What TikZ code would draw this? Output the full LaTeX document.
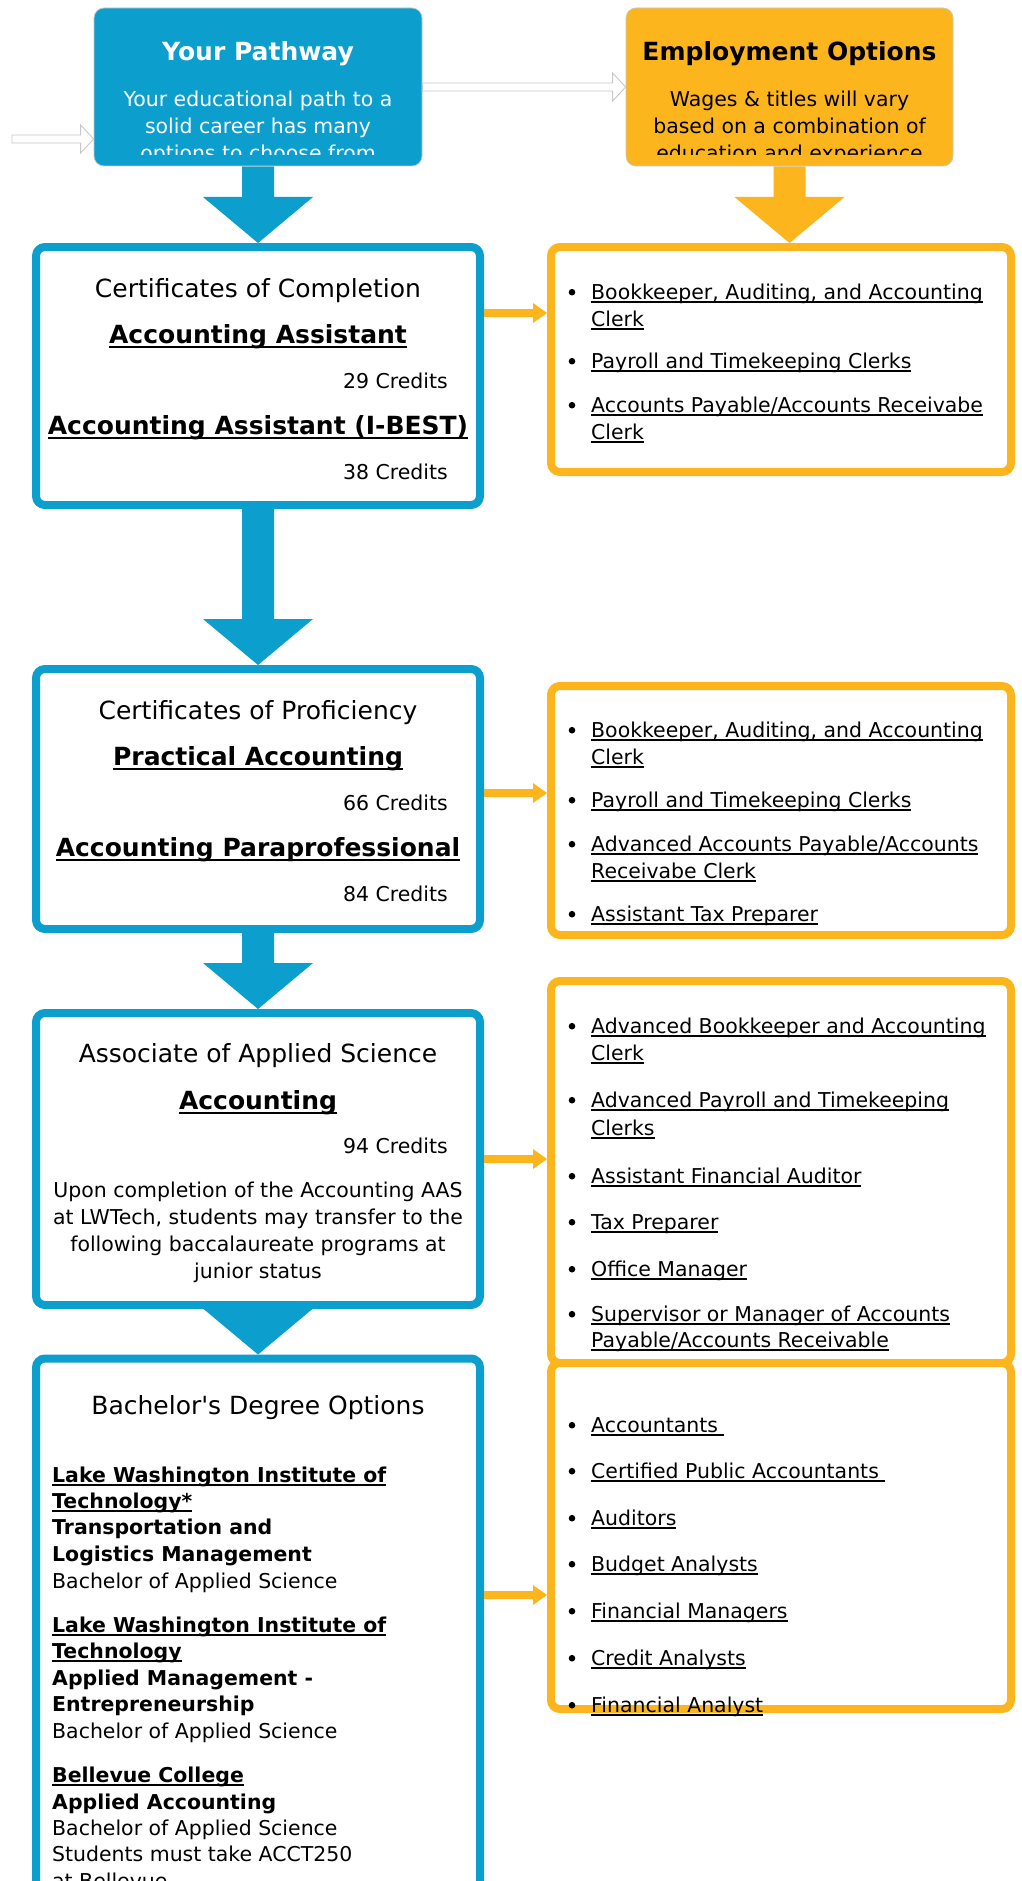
\documentclass[tikz,border=0pt]{standalone}
\usepackage{fontspec}
\setmainfont{DejaVu Sans}
\usetikzlibrary{calc}
\definecolor{lwblue}{RGB}{12,159,206}
\definecolor{lworange}{RGB}{253,181,30}
\definecolor{edgegray}{RGB}{200,200,200}
\newsavebox\ulbox
\newcommand\ulr[1]{\sbox\ulbox{#1}\rlap{\rule[-3.6pt]{\wd\ulbox}{1.3pt}}\usebox\ulbox}
\newcommand\ulb[1]{\sbox\ulbox{#1}\rlap{\rule[-4.6pt]{\wd\ulbox}{2pt}}\usebox\ulbox}
\newcommand\uls[1]{\sbox\ulbox{#1}\rlap{\rule[-3.8pt]{\wd\ulbox}{1.6pt}}\usebox\ulbox}
\pgfdeclarelayer{background}
\pgfsetlayers{background,main}
\newcommand\blkarrow[3]{\fill[#3] let \p1=(#1), \p2=(#2) in (\x1-16pt,\y1) -- (\x1+16pt,\y1) -- (\x1+16pt,\y2+46pt) -- (\x1+55pt,\y2+46pt) -- (\x1,\y2) -- (\x1-55pt,\y2+46pt) -- (\x1-16pt,\y2+46pt) -- cycle;}
\newcommand\sidearrow[2]{\fill[lworange] let \p1=(#1), \p2=(#2) in (\x1,\y1+4pt) -- (\x2-14pt,\y1+4pt) -- (\x2-14pt,\y1+10pt) -- (\x2,\y1) -- (\x2-14pt,\y1-10pt) -- (\x2-14pt,\y1-4pt) -- (\x1,\y1-4pt) -- cycle;}
\newcommand\hollowarrow[2]{\draw[draw=edgegray, line width=0.9pt, fill=white] let \p1=(#1), \p2=(#2) in (\x1,\y1+4pt) -- (\x2-13pt,\y1+4pt) -- (\x2-13pt,\y1+14pt) -- (\x2,\y1) -- (\x2-13pt,\y1-14pt) -- (\x2-13pt,\y1-4pt) -- (\x1,\y1-4pt) -- cycle;}
\newcommand\bitem[3]{\fill (572,#2-6.8) circle (3.3pt); \node[itm] (#1) at (591,#2) {\ulr{#3}};}
\tikzset{
  bluebox/.style={draw=lwblue, line width=8pt, fill=white, rounded corners=9pt, inner sep=0pt},
  orbox/.style={draw=lworange, line width=8pt, fill=white, rounded corners=9pt, inner sep=0pt},
  headbox/.style={draw=black!22, line width=0.7pt, rounded corners=10pt, inner sep=0pt},
  ttl/.style={font=\fontsize{25}{27}\selectfont, inner sep=0pt, anchor=base},
  ttlb/.style={font=\fontsize{25}{27}\selectfont\bfseries, inner sep=0pt, anchor=base},
  bod/.style={font=\fontsize{20.45}{27}\selectfont, inner sep=0pt, anchor=base},
  lft/.style={font=\fontsize{20.45}{27}\selectfont, inner sep=0pt, anchor=base west},
  lftb/.style={font=\fontsize{20.45}{27}\selectfont\bfseries, inner sep=0pt, anchor=base west},
  itm/.style={font=\fontsize{20.45}{27}\selectfont, inner sep=0pt, anchor=base west},
}
\begin{document}
\begin{tikzpicture}[x=1pt,y=-1pt]
\useasboundingbox (0,0) rectangle (1022,1881);

% header boxes
\node[headbox, fill=lwblue, minimum width=328pt, minimum height=158pt] (path) at (258,87) {};
\node[headbox, fill=lworange, minimum width=327pt, minimum height=158pt] (emp) at (789.5,87) {};
\node[ttlb, text=white] (pathT) at (258,61) {Your Pathway};
\node[ttlb] (empT) at (789.5,61) {Employment Options};
\begin{scope}
\clip (94,8) rectangle (953,155);
\node[bod, text=white] (pathL1) at (258,107) {Your educational path to a};
\node[bod, text=white] (pathL2) at (258,134) {solid career has many};
\node[bod, text=white] (pathL3) at (258,161) {options to choose from};
\node[bod] (empL1) at (789.5,107) {Wages \& titles will vary};
\node[bod] (empL2) at (789.5,134) {based on a combination of};
\node[bod] (empL3) at (789.5,161) {education and experience};
\end{scope}

% left boxes
\node[bluebox, minimum width=444pt, minimum height=258pt] (b1) at (258,376) {};
\node[bluebox, minimum width=444pt, minimum height=260pt] (b2) at (258,799) {};
\node[bluebox, minimum width=444pt, minimum height=292pt] (b3) at (258,1159) {};
\node[bluebox, minimum width=444pt, minimum height=563pt] (b4) at (258,1640) {};

% right boxes
\node[orbox, minimum width=460pt, minimum height=225pt] (o1) at (781,359.5) {};
\node[orbox, minimum width=460pt, minimum height=249pt] (o2) at (781,810.5) {};
\node[orbox, minimum width=460pt, minimum height=382pt] (o3) at (781,1172) {};
\node[orbox, minimum width=460pt, minimum height=346pt] (o4) at (781,1536) {};

% connector coordinates
\coordinate (c1) at (0,313);
\coordinate (c2) at (0,793);
\coordinate (c3) at (0,1159);
\coordinate (c4) at (0,1595);
\coordinate (lstart) at (12,139);

\begin{pgfonlayer}{background}
\fill[white] (0,0) rectangle (1022,1881);
\blkarrow{path.south}{b1.north}{lwblue}
\blkarrow{b1.south}{b2.north}{lwblue}
\blkarrow{b2.south}{b3.north}{lwblue}
\blkarrow{b3.south}{b4.north}{lwblue}
\blkarrow{emp.south}{o1.north}{lworange}
\end{pgfonlayer}

\hollowarrow{path.east}{emp.west}
\hollowarrow{lstart}{path.west |- lstart}
\sidearrow{b1.east |- c1}{o1.west |- c1}
\sidearrow{b2.east |- c2}{o2.west |- c2}
\sidearrow{b3.east |- c3}{o3.west |- c3}
\sidearrow{b4.east |- c4}{o4.west |- c4}

% box 1 text
\node[ttl] (b1t) at (258,297) {Certificates of Completion};
\node[ttlb] (b1p1) at (258,343) {\ulb{Accounting Assistant}};
\node[bod, anchor=base east] (b1c1) at (448,388) {29 Credits};
\node[ttlb] (b1p2) at (258,434) {\ulb{Accounting Assistant (I-BEST)}};
\node[bod, anchor=base east] (b1c2) at (448,479) {38 Credits};

% box 2 text
\node[ttl] (b2t) at (258,719) {Certificates of Proficiency};
\node[ttlb] (b2p1) at (258,765) {\ulb{Practical Accounting}};
\node[bod, anchor=base east] (b2c1) at (448,810) {66 Credits};
\node[ttlb] (b2p2) at (258,856) {\ulb{Accounting Paraprofessional}};
\node[bod, anchor=base east] (b2c2) at (448,901) {84 Credits};

% box 3 text
\node[ttl] (b3t) at (258,1062) {Associate of Applied Science};
\node[ttlb] (b3p1) at (258,1109) {\ulb{Accounting}};
\node[bod, anchor=base east] (b3c1) at (448,1153) {94 Credits};
\node[bod] (b3l1) at (258,1197) {Upon completion of the Accounting AAS};
\node[bod] (b3l2) at (258,1224) {at LWTech, students may transfer to the};
\node[bod] (b3l3) at (258,1251) {following baccalaureate programs at};
\node[bod] (b3l4) at (258,1278) {junior status};

% box 4 text
\node[ttl] (b4t) at (258,1414) {Bachelor\textquotesingle s Degree Options};
\node[lftb] (b4a1) at (52,1482) {\uls{Lake Washington Institute of}};
\node[lftb] (b4a2) at (52,1508) {\uls{Technology*}};
\node[lftb] (b4a3) at (52,1534) {Transportation and};
\node[lftb] (b4a4) at (52,1561) {Logistics Management};
\node[lft] (b4a5) at (52,1588) {Bachelor of Applied Science};
\node[lftb] (b4b1) at (52,1632) {\uls{Lake Washington Institute of}};
\node[lftb] (b4b2) at (52,1658) {\uls{Technology}};
\node[lftb] (b4b3) at (52,1685) {Applied Management -};
\node[lftb] (b4b4) at (52,1711) {Entrepreneurship};
\node[lft] (b4b5) at (52,1738) {Bachelor of Applied Science};
\node[lftb] (b4c1) at (52,1782) {\uls{Bellevue College}};
\node[lftb] (b4c2) at (52,1809) {Applied Accounting};
\node[lft] (b4c3) at (52,1835) {Bachelor of Applied Science};
\node[lft] (b4c4) at (52,1861) {Students must take ACCT250};
\node[lft] (b4c5) at (52,1888) {at Bellevue};

% orange box 1
\bitem{o1i1}{299}{Bookkeeper, Auditing, and Accounting}
\node[itm] (o1i1b) at (591,326) {\ulr{Clerk}};
\bitem{o1i2}{368}{Payroll and Timekeeping Clerks}
\bitem{o1i3}{412}{Accounts Payable/Accounts Receivabe}
\node[itm] (o1i3b) at (591,439) {\ulr{Clerk}};

% orange box 2
\bitem{o2i1}{737}{Bookkeeper, Auditing, and Accounting}
\node[itm] (o2i1b) at (591,764) {\ulr{Clerk}};
\bitem{o2i2}{807}{Payroll and Timekeeping Clerks}
\bitem{o2i3}{851}{Advanced Accounts Payable/Accounts}
\node[itm] (o2i3b) at (591,878) {\ulr{Receivabe Clerk}};
\bitem{o2i4}{921}{Assistant Tax Preparer}

% orange box 3
\bitem{o3i1}{1033}{Advanced Bookkeeper and Accounting}
\node[itm] (o3i1b) at (591,1060) {\ulr{Clerk}};
\bitem{o3i2}{1107}{Advanced Payroll and Timekeeping}
\node[itm] (o3i2b) at (591,1135) {\ulr{Clerks}};
\bitem{o3i3}{1183}{Assistant Financial Auditor}
\bitem{o3i4}{1229}{Tax Preparer}
\bitem{o3i5}{1276}{Office Manager}
\bitem{o3i6}{1321}{Supervisor or Manager of Accounts}
\node[itm] (o3i6b) at (591,1347) {\ulr{Payable/Accounts Receivable}};

% orange box 4
\bitem{o4i1}{1432}{Accountants\ }
\bitem{o4i2}{1478}{Certified Public Accountants\ }
\bitem{o4i3}{1525}{Auditors}
\bitem{o4i4}{1571}{Budget Analysts}
\bitem{o4i5}{1618}{Financial Managers}
\bitem{o4i6}{1665}{Credit Analysts}
\bitem{o4i7}{1712}{Financial Analyst}
\end{tikzpicture}
\end{document}
